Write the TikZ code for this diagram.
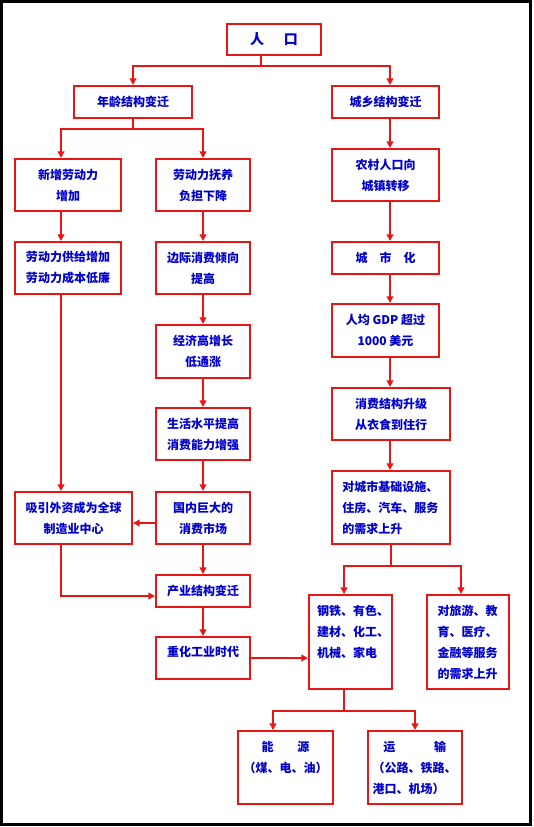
\documentclass[tikz,border=0pt]{standalone}
\usepackage{fontspec}
\usepackage{xcolor}
\usepackage{tikz}
\usetikzlibrary{arrows.meta,positioning,calc}

\newfontfamily\cjk{Noto Sans CJK SC}
\definecolor{boxred}{RGB}{235,20,20}
\definecolor{txtblue}{RGB}{0,0,205}

\begin{document}
\begin{tikzpicture}[
  x=0.75pt, y=-0.75pt,
  box/.style={rectangle, draw=boxred, line width=1.5pt, fill=white,
              text=txtblue, anchor=north west, inner sep=0pt, align=center,
              font=\cjk\bfseries\fontsize{9}{15.75}\selectfont},
  lbox/.style={box, align=left},
  arr/.style={-{Triangle[length=5pt,width=5pt]}, draw=boxred, line width=1.5pt},
  frame/.style={draw=black, line width=2.25pt}
]
\useasboundingbox (0,0) rectangle (533,827);
\draw[frame] (1.5,1.5) rectangle (530.5,824.5);

% tap lines of the columns
\coordinate (colR) at (261,0);
\coordinate (colA) at (61,0);
\coordinate (colB) at (202,0);
\coordinate (colC) at (390,0);
\coordinate (colD) at (344,0);
\coordinate (colE) at (461,0);
\coordinate (colF) at (273,0);
\coordinate (colG) at (414,0);

\node[box, minimum width=70.5pt, minimum height=23.25pt,
      font=\cjk\bfseries\fontsize{10.5}{12}\selectfont] (ren) at (226,23) {人\hspace{15pt}口};

\node[box, minimum width=88.5pt, minimum height=24pt] (nianling) at (73,85) {年龄结构变迁};
\node[box, minimum width=80.25pt, minimum height=24pt] (chengxiang) at (331,85) {城乡结构变迁};

\node[box, minimum width=79.5pt, minimum height=39pt] (xinzeng) at (14,158) {新增劳动力\\增加};
\node[box, minimum width=70.5pt, minimum height=39pt] (fudan) at (155,158) {劳动力抚养\\负担下降};
\node[box, minimum width=80.25pt, minimum height=39pt] (nongcun) at (331,148) {农村人口向\\城镇转移};

\node[box, minimum width=79.5pt, minimum height=39pt] (gongji) at (14,241) {劳动力供给增加\\劳动力成本低廉};
\node[box, minimum width=70.5pt, minimum height=39pt] (bianji) at (155,241) {边际消费倾向\\提高};
\node[box, minimum width=80.25pt, minimum height=24pt] (chengshihua) at (331,241) {城\quad 市\quad 化};

\node[box, minimum width=80.25pt, minimum height=39.75pt] (renjun) at (331,303) {人均 GDP 超过\\1000 美元};
\node[box, minimum width=70.5pt, minimum height=39.75pt] (jingji) at (155,324) {经济高增长\\低通涨};
\node[box, minimum width=88.5pt, minimum height=39pt] (xiaofei) at (331,387) {消费结构升级\\从衣食到住行};
\node[box, minimum width=70.5pt, minimum height=39pt] (shenghuo) at (155,407) {生活水平提高\\消费能力增强};

\node[lbox, minimum width=88.5pt, minimum height=54.75pt, text width=73pt, inner xsep=7.75pt] (duichengshi) at (331,470)
  {对城市基础设施、\\住房、汽车、服务\\的需求上升};
\node[box, minimum width=87.75pt, minimum height=39pt] (xiyin) at (14,491) {吸引外资成为全球\\制造业中心};
\node[box, minimum width=70.5pt, minimum height=39pt] (guonei) at (155,491) {国内巨大的\\消费市场};

\node[box, minimum width=70.5pt, minimum height=24pt] (chanye) at (155,574) {产业结构变迁};
\node[box, minimum width=70.5pt, minimum height=31.5pt, text height=7pt, text depth=9pt] (zhonghua) at (155,636) {重化工业时代};

\node[lbox, minimum width=62.25pt, minimum height=70.5pt, text width=50.25pt, inner xsep=6pt] (gangtie) at (308,594)
  {钢铁、有色、\\建材、化工、\\机械、家电\\~};
\node[lbox, minimum width=61.5pt, minimum height=70.5pt, text width=45.5pt, inner xsep=8pt] (duilvyou) at (426,594)
  {对旅游、教\\育、医疗、\\金融等服务\\的需求上升};

\node[box, minimum width=71.25pt, minimum height=54.75pt] (nengyuan) at (237,730) {能\qquad 源\\（煤、电、油）\\~};
\node[lbox, minimum width=70.5pt, minimum height=54.75pt, text width=63.5pt, inner xsep=3.5pt] (yunshu) at (367,730)
  {\hspace*{8pt}运\hspace{29pt}输\\（公路、铁路、\\港口、机场）};

\draw[arr] (colR |- ren.south) -- ++(0,10) -| (nianling.north);
\draw[arr] (colR |- ren.south) -- ++(0,10) -| (colC |- chengxiang.north);

\draw[arr] (nianling.south) -- ++(0,10) -| (colA |- xinzeng.north);
\draw[arr] (nianling.south) -- ++(0,10) -| (fudan.north);

\draw[arr] (colA |- xinzeng.south) -- (colA |- gongji.north);
\draw[arr] (colA |- gongji.south) -- (colA |- xiyin.north);

\draw[arr] (fudan.south) -- (bianji.north);
\draw[arr] (bianji.south) -- (jingji.north);
\draw[arr] (jingji.south) -- (shenghuo.north);
\draw[arr] (shenghuo.south) -- (guonei.north);
\draw[arr] (guonei.south) -- (chanye.north);
\draw[arr] (chanye.south) -- (zhonghua.north);

\draw[arr] (colC |- chengxiang.south) -- (colC |- nongcun.north);
\draw[arr] (colC |- nongcun.south) -- (colC |- chengshihua.north);
\draw[arr] (colC |- chengshihua.south) -- (colC |- renjun.north);
\draw[arr] (colC |- renjun.south) -- (colC |- xiaofei.north);
\draw[arr] (colC |- xiaofei.south) -- (colC |- duichengshi.north);

\draw[arr] ([yshift=-3.75pt]guonei.west) -- ([yshift=-3.75pt]guonei.west -| xiyin.east);
\draw[arr] (colA |- xiyin.south) |- ([yshift=-3.75pt]chanye.west);
\draw[arr] (zhonghua.east) -- (zhonghua.east -| gangtie.west);

\draw[arr] (duichengshi.south) -- ++(0,21) -| (colD |- gangtie.north);
\draw[arr] (duichengshi.south) -- ++(0,21) -| (colE |- duilvyou.north);

\draw[arr] (colD |- gangtie.south) -- ++(0,21) -| (colF |- nengyuan.north);
\draw[arr] (colD |- gangtie.south) -- ++(0,21) -| (yunshu.north);
\end{tikzpicture}
\end{document}
